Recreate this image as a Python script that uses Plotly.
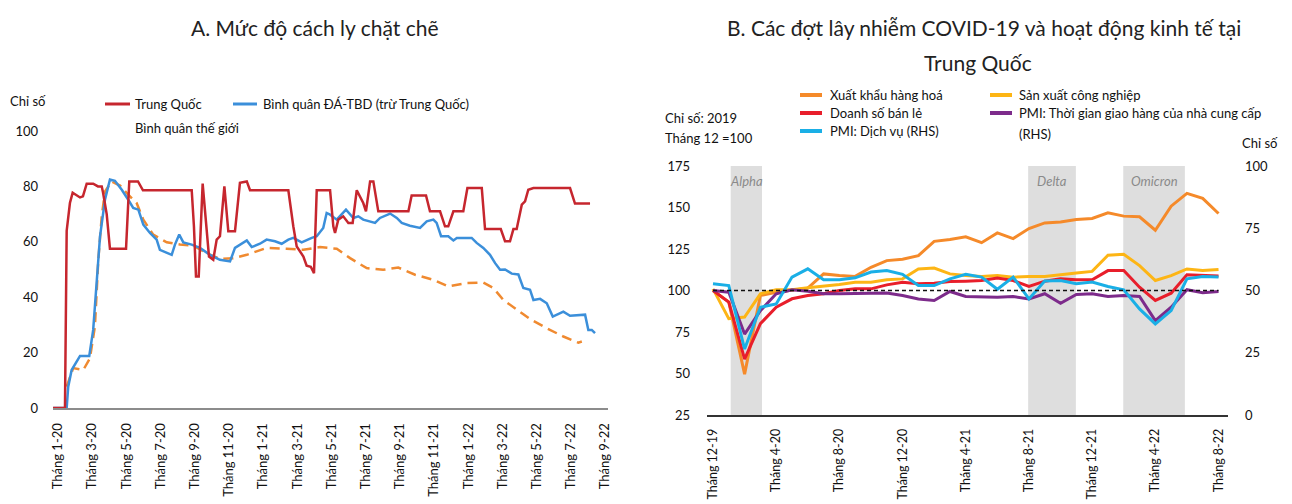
import plotly.graph_objects as go

# The page body adds an 8px margin, so the figure is 8px smaller and all
# pixel positions below are given in page coordinates and shifted by OFF.
PAGE_W, PAGE_H = 1292, 504
OFF = 8
W, H = PAGE_W - OFF, PAGE_H - OFF
FONT = "Lato"

# ---------------- Panel A data (months since Jan 2020) ----------------
china_m = [-0.29, 0.41, 0.51, 0.70, 0.86, 1.29, 1.46, 1.68, 2.06, 2.34, 2.56, 2.63, 2.85, 3.04, 3.98, 4.17, 4.68, 4.97,
           7.82, 7.95, 8.07, 8.23, 8.46, 8.70, 8.83, 9.08, 9.28, 9.47, 9.73, 9.96, 10.35, 10.64, 11.04, 11.23,
           13.47, 13.76, 13.96, 14.35, 14.54, 14.78, 14.97, 15.13, 15.91, 16.10, 16.20, 16.39, 16.68, 16.98, 17.23,
           17.47, 17.85, 18.01, 18.25, 18.44, 18.73, 20.49, 20.68, 21.52, 21.75, 22.34, 22.63, 22.82, 23.12, 23.70,
           23.94, 24.78, 24.97, 25.89, 26.14, 26.43, 26.63, 26.82, 27.12, 27.31, 27.50, 27.80, 29.94, 30.23, 31.11]
china_v = [0, 0, 64, 74, 77.7, 76, 76.4, 81, 81, 80, 80, 78, 70, 57.5, 57.5, 81.8, 81.8, 78.6,
           78.6, 65.6, 47.5, 47.5, 81, 65.6, 54.7, 53.5, 60.8, 62, 80, 63.8, 63.8, 81.3, 81.8, 78.6,
           78.6, 65.6, 58.3, 54.7, 51.4, 51, 48.7, 78.6, 78.6, 65.6, 63.2, 68, 69.2, 66.8, 66.8,
           78.6, 74, 71, 81.8, 81.8, 71, 71, 76.7, 76.7, 71, 71, 65.6, 65.6, 71, 71,
           79.4, 79.4, 64.6, 64.6, 60.2, 60.2, 64.6, 64.6, 73.4, 74.6, 78.8, 79.4, 79.4, 73.8, 73.8]

apac_m = [-0.27, 0.51, 0.60, 0.80, 1.29, 1.83, 2.06, 2.26, 2.46, 2.75, 3.04, 3.33, 3.73, 4.11, 4.40, 4.70, 4.99,
          5.38, 5.77, 5.96, 6.36, 6.65, 6.84, 7.09, 7.33, 7.82, 8.30, 8.89, 9.47, 10.06, 10.35, 10.64, 11.04,
          11.33, 11.81, 12.20, 12.69, 13.08, 13.47, 13.76, 14.25, 14.84, 15.13, 15.51, 15.71, 15.91, 16.30,
          16.84, 17.27, 17.56, 17.85, 18.54, 18.83, 19.42, 19.81, 20.10, 20.58, 21.17, 21.56, 21.95, 22.14,
          22.40, 22.82, 23.12, 23.32, 24.19, 24.48, 24.87, 25.26, 25.56, 25.85, 26.14, 26.53, 26.92, 27.21,
          27.60, 27.80, 28.19, 28.58, 28.93, 29.55, 29.94, 30.82, 31.01, 31.21, 31.40]
apac_v = [0, 0, 7.7, 13.7, 18.8, 18.8, 28.2, 43.9, 62, 75.2, 82.5, 82, 78.8, 75.2, 72.2, 71.6, 66.2,
          63.2, 60.8, 57.1, 55.9, 55.3, 59, 62.6, 59.8, 59, 57.8, 55.3, 53.5, 52.9, 57.8, 59, 60.5,
          58.1, 59.3, 60.8, 60.2, 59.3, 60.8, 61.4, 59.8, 61.4, 62, 65, 70.4, 69.8, 68,
          71.6, 68.6, 69.2, 68, 66.8, 68.6, 70.2, 68.6, 66.8, 65.8, 65, 67.4, 68, 66.8,
          62, 62, 60.5, 61.4, 61.4, 59.6, 57.8, 55.3, 52.3, 49.9, 50, 48.5, 48.2, 43.3,
          42.7, 39, 39.4, 37.8, 33, 34.8, 33.3, 33.7, 28.2, 28.2, 27]

world_m = [0.51, 0.89, 1.48, 1.87, 2.16, 2.36, 2.56, 2.75, 3.14, 3.63, 4.11, 4.60, 4.99, 5.57, 6.36, 7.13,
           7.91, 8.70, 9.47, 10.25, 11.04, 12.20, 13.37, 14.35, 15.32, 16.30, 17.08, 18.05, 19.01, 19.90,
           20.88, 21.95, 22.82, 23.90, 24.87, 25.46, 26.04, 26.82, 27.60, 28.58, 29.55, 30.43, 30.63]
world_v = [7.7, 14.4, 13.7, 18, 29.4, 53.5, 69.2, 78.2, 81.8, 80.3, 77, 74, 68, 62.6, 59.8, 59,
           58.6, 55.9, 53.8, 54.1, 55.3, 57.8, 57.5, 57.1, 58.1, 57.5, 54.1, 50.5, 49.9, 50.7,
           48.1, 46.3, 43.9, 45.1, 45.3, 43.3, 39, 35.4, 32.1, 28.8, 25.8, 23.6, 24]

left_tickvals = list(range(0, 33, 2))
left_ticktext = ["Tháng 1-20", "Tháng 3-20", "Tháng 5-20", "Tháng 7-20", "Tháng 9-20", "Tháng 11-20",
                 "Tháng 1-21", "Tháng 3-21", "Tháng 5-21", "Tháng 7-21", "Tháng 9-21", "Tháng 11-21",
                 "Tháng 1-22", "Tháng 3-22", "Tháng 5-22", "Tháng 7-22", "Tháng 9-22"]

# ---------------- Panel B data (monthly, Dec 2019 .. Aug 2022) ----------------
months_b = list(range(33))
exports = [100, 93, 49.6, 97, 99, 100, 101.4, 110, 109, 108.5, 114, 118, 118.8, 121, 129.6, 130.7, 132.3,
           128.8, 134.7, 131.3, 137.3, 140.7, 141.3, 142.8, 143.4, 146.8, 144.8, 144.4, 136.3, 150.8, 158.5,
           155.5, 146.4]
industrial = [101, 83, 84, 98, 100.4, 100.4, 101.6, 102.4, 103.6, 105, 105, 106.5, 107, 113, 113.5, 110, 109,
              108.5, 109, 108, 108.5, 108.5, 109.7, 110.5, 111.5, 121.2, 121.8, 115, 106, 109, 113, 112, 112.7]
retail = [100, 93, 58.6, 80, 90, 95, 97, 98, 100, 101, 101, 103.4, 105, 104, 104.4, 105.4, 105.6, 106, 107.5,
          106, 102.4, 105.6, 107, 106.5, 106.5, 112, 112, 102, 94, 98.4, 109.5, 109, 108.7]
pmi_services = [52.7, 52, 26.5, 43.3, 44.6, 55.4, 58.7, 54.3, 54.3, 55.1, 57.4, 58, 56.5, 52, 52, 54.7, 56.5,
                55.4, 50.5, 55.4, 46.6, 53.8, 54, 52.7, 53.4, 51.6, 50.3, 42.6, 36.6, 41.9, 54.7, 55.6, 55.4]
pmi_delivery = [50, 49.3, 32.5, 41.9, 48.7, 50.3, 49.7, 48.7, 48.7, 48.9, 49, 49, 48, 46.6, 46, 49.6, 47.6,
                47.3, 47.3, 47.6, 46.6, 48.7, 44.9, 48.4, 48.7, 47.6, 48, 47.6, 37.9, 43.3, 50.3, 49.1, 49.6]

waves = ["Alpha", "Delta", "Omicron"]
wave_start = [1.12, 19.95, 25.97]
wave_end = [3.1, 22.97, 29.87]

right_tickvals = list(range(0, 33, 4))
right_ticktext = ["Tháng 12-19", "Tháng 4-20", "Tháng 8-20", "Tháng 12-20", "Tháng 4-21",
                  "Tháng 8-21", "Tháng 12-21", "Tháng 4-22", "Tháng 8-22"]

# colours
C_CHINA, C_APAC, C_WORLD = "#C6262E", "#3B8FDA", "#F08A30"
C_EXP, C_RET, C_SVC, C_IND, C_DEL = "#F58A2A", "#E81E2B", "#1AAFE6", "#FDB515", "#7D2B8B"


def px(x):
    return (x - OFF) / W


def py(y):
    return 1 - (y - OFF) / H


fig = go.Figure()

# Panel A
fig.add_trace(go.Scatter(x=world_m, y=world_v, mode="lines", line=dict(color=C_WORLD, width=2.5, dash="10px,6px"),
                         xaxis="x", yaxis="y", showlegend=False))
fig.add_trace(go.Scatter(x=apac_m, y=apac_v, mode="lines", line=dict(color=C_APAC, width=2.5),
                         xaxis="x", yaxis="y", showlegend=False))
fig.add_trace(go.Scatter(x=china_m, y=china_v, mode="lines", line=dict(color=C_CHINA, width=2.5),
                         xaxis="x", yaxis="y", showlegend=False))

# Panel B
fig.add_trace(go.Scatter(x=months_b, y=exports, mode="lines", line=dict(color=C_EXP, width=3),
                         xaxis="x2", yaxis="y2", showlegend=False))
fig.add_trace(go.Scatter(x=months_b, y=industrial, mode="lines", line=dict(color=C_IND, width=3),
                         xaxis="x2", yaxis="y2", showlegend=False))
fig.add_trace(go.Scatter(x=months_b, y=retail, mode="lines", line=dict(color=C_RET, width=3),
                         xaxis="x2", yaxis="y2", showlegend=False))
fig.add_trace(go.Scatter(x=months_b, y=pmi_delivery, mode="lines", line=dict(color=C_DEL, width=3),
                         xaxis="x2", yaxis="y3", showlegend=False))
fig.add_trace(go.Scatter(x=months_b, y=pmi_services, mode="lines", line=dict(color=C_SVC, width=3),
                         xaxis="x2", yaxis="y3", showlegend=False))

shapes = []
annotations = []
for name, s, e in zip(waves, wave_start, wave_end):
    shapes.append(dict(type="rect", xref="x2", yref="y2", x0=s, x1=e, y0=25, y1=175,
                       fillcolor="#DEDEDE", line=dict(width=0), layer="below"))
    annotations.append(dict(text=f"<i>{name}</i>", xref="x2", yref="paper", x=(s + e) / 2, y=py(181),
                            showarrow=False, font=dict(family=FONT, size=13, color="#8A8A8A"),
                            xanchor="center", yanchor="middle"))
# reference line at 100
shapes.append(dict(type="line", xref="x2", yref="y2", x0=months_b[0], x1=months_b[-1], y0=100, y1=100,
                   line=dict(color="#111111", width=1.3, dash="4px,3px")))

# Titles
TITLE_FONT = dict(family=FONT, size=21, color="#222")
annotations.append(dict(text="A. Mức độ cách ly chặt chẽ", x=px(315), y=py(27), xref="paper", yref="paper",
                        showarrow=False, font=TITLE_FONT, xanchor="center", yanchor="middle"))
annotations.append(dict(text="B. Các đợt lây nhiễm COVID-19 và hoạt động kinh tế tại", x=px(984), y=py(27),
                        xref="paper", yref="paper", showarrow=False, font=TITLE_FONT,
                        xanchor="center", yanchor="middle"))
annotations.append(dict(text="Trung Quốc", x=px(978), y=py(62), xref="paper", yref="paper", showarrow=False,
                        font=TITLE_FONT, xanchor="center", yanchor="middle"))


def txt(t, x, y, size=13, anchor="left"):
    annotations.append(dict(text=t, x=px(x), y=py(y), xref="paper", yref="paper", showarrow=False,
                            font=dict(family=FONT, size=size, color="#111"), xanchor=anchor, yanchor="middle"))


def leg_line(x0, x1, y, color, w=3):
    shapes.append(dict(type="line", xref="paper", yref="paper", x0=px(x0), x1=px(x1), y0=py(y), y1=py(y),
                       line=dict(color=color, width=w)))


# Panel A legend and axis title
txt("Chỉ số", 8, 101)
leg_line(105, 130, 104, C_CHINA)
txt("Trung Quốc", 133, 104)
leg_line(233, 257, 104, C_APAC)
txt("Bình quân ĐÁ-TBD (trừ Trung Quốc)", 261, 104)
txt("Bình quân thế giới", 133, 128)

# Panel B legend and axis titles
leg_line(800, 822, 95, C_EXP, 4)
txt("Xuất khẩu hàng hoá", 828, 95)
leg_line(800, 822, 113, C_RET, 4)
txt("Doanh số bán lẻ", 828, 113)
leg_line(800, 822, 131, C_SVC, 4)
txt("PMI: Dịch vụ (RHS)", 828, 131)
leg_line(990, 1012, 95, C_IND, 4)
txt("Sản xuất công nghiệp", 1017, 95)
leg_line(990, 1012, 113, C_DEL, 4)
txt("PMI: Thời gian giao hàng của nhà cung cấp", 1017, 113)
txt("(RHS)", 1017, 134)
txt("Chỉ số: 2019", 663, 118)
txt("Tháng 12 =100", 663, 138)
txt("Chỉ số", 1240, 143)

tickfont = dict(family=FONT, size=13, color="#111")
tickfont_b = dict(family=FONT, size=12.5, color="#111")

fig.update_layout(
    template="none",
    width=W, height=H, margin=dict(l=0, r=0, t=0, b=0, pad=0, autoexpand=False),
    paper_bgcolor="white", plot_bgcolor="white",
    font=dict(family=FONT, size=13, color="#111"),
    shapes=shapes, annotations=annotations,
    xaxis=dict(domain=[px(53), px(608)], range=[-0.29, 32.16], tickvals=left_tickvals, ticktext=left_ticktext,
               tickangle=-90, showgrid=False, zeroline=False, showline=True, linecolor="#8C8C8C", linewidth=2,
               ticks="", ticklabelstandoff=8, tickfont=tickfont, anchor="y", automargin=False),
    yaxis=dict(domain=[py(408), py(131)], range=[0, 100], tickvals=list(range(0, 101, 20)), showgrid=False,
               zeroline=False, showline=False, ticks="", ticklabelstandoff=14, tickfont=tickfont, anchor="x",
               automargin=False),
    xaxis2=dict(domain=[px(707), px(1228)], range=[-0.38, 32.6], tickvals=right_tickvals,
                ticktext=right_ticktext, tickangle=-90, showgrid=False, zeroline=False, showline=True,
                linecolor="#333333", linewidth=1.5, ticks="", ticklabelstandoff=7, tickfont=tickfont_b,
                anchor="y2", automargin=False),
    yaxis2=dict(domain=[py(415), py(166)], range=[25, 175], tickvals=list(range(25, 176, 25)), showgrid=False,
                zeroline=False, showline=False, ticks="", ticklabelstandoff=16, tickfont=tickfont, anchor="x2",
                automargin=False),
    yaxis3=dict(overlaying="y2", side="right", range=[0, 100], tickvals=list(range(0, 101, 25)), showgrid=False,
                zeroline=False, showline=False, ticks="", ticklabelstandoff=16, tickfont=tickfont, anchor="x2",
                automargin=False),
)

fig.write_html("out.html")
